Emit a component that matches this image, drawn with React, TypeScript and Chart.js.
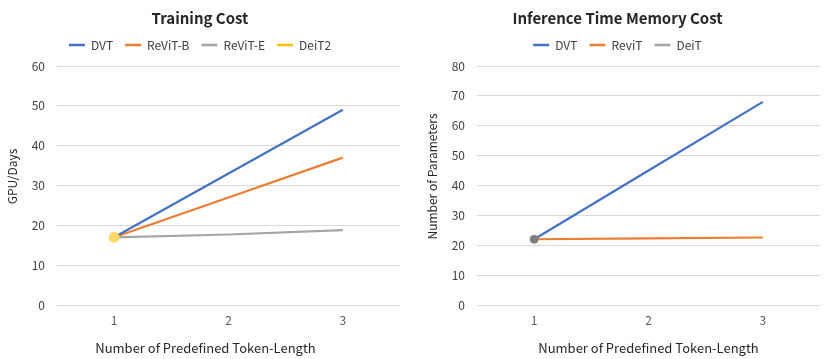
import React, { useEffect, useRef } from "react";
import { Chart, registerables } from "chart.js";

Chart.register(...registerables);

const tokenLengths = ["1", "2", "3"];

// Training cost (GPU/Days)
const trainDVT = [17, 33, 49];
const trainReViTB = [17, 27, 37];
const trainReViTE = [17, 17.7, 18.8];
const trainDeiT2 = [17, null, null];

// Inference time memory cost (Number of Parameters)
const inferDVT = [22, 45, 68];
const inferReviT = [22, 22.3, 22.6];
const inferDeiT = [22, null, null];

const FONT = "'Noto Sans CJK SC', 'Noto Sans', sans-serif";
const BLUE = "#4472C4";
const ORANGE = "#ED7D31";
const GREY = "#A5A5A5";
const GOLD = "#FFC000";

const axisTitles = {
  id: "axisTitles",
  afterDraw(chart: any, _args: any, opts: any) {
    const { ctx, chartArea } = chart;
    ctx.save();
    ctx.fillStyle = "#262626";
    ctx.textAlign = "center";
    ctx.textBaseline = "middle";
    ctx.font = `13px ${FONT}`;
    const cx = opts.xCenter === "canvas" ? chart.width / 2 + (opts.xShift || 0) : (chartArea.left + chartArea.right) / 2;
    ctx.fillText(opts.xText, cx, chart.height - opts.xFromBottom);
    ctx.font = `12px ${FONT}`;
    ctx.translate(opts.yX, (chartArea.top + chartArea.bottom) / 2 + opts.yShift);
    ctx.rotate(-Math.PI / 2);
    ctx.fillText(opts.yText, 0, 0);
    ctx.restore();
  },
};

const legendGap = {
  id: "legendGap",
  beforeInit(chart: any) {
    const legend = chart.legend;
    if (!legend) return;
    const fit = legend.fit;
    legend.fit = function () {
      fit.call(this);
      this.height += 5;
    };
  },
};

function makeConfig(p: {
  title: string;
  datasets: any[];
  max: number;
  yWidth: number;
  padRight: number;
  yText: string;
  yX: number;
  xCenter: string;
  xShift?: number;
}) {
  return {
    type: "line",
    data: { labels: tokenLengths, datasets: p.datasets },
    plugins: [legendGap, axisTitles],
    options: {
      responsive: false,
      animation: false,
      layout: { padding: { left: 0, right: p.padRight, top: 0, bottom: 0 } },
      plugins: {
        title: {
          display: true,
          text: p.title,
          color: "#262626",
          font: { family: FONT, size: 15, weight: "bold" },
          padding: { top: 9, bottom: 0 },
        },
        legend: {
          display: true,
          position: "top",
          labels: {
            color: "#404040",
            font: { family: FONT, size: 12 },
            usePointStyle: true,
            pointStyle: "line",
            pointStyleWidth: 16,
            padding: 12,
            generateLabels(chart: any) {
              return chart.data.datasets.map((ds: any, i: number) => ({
                text: ds.label,
                fillStyle: ds.borderColor,
                strokeStyle: ds.borderColor,
                lineWidth: 2.5,
                pointStyle: "line",
                hidden: false,
                datasetIndex: i,
                fontColor: "#404040",
              }));
            },
          },
        },
        tooltip: { enabled: false },
        axisTitles: {
          xText: "Number of Predefined Token-Length",
          xCenter: p.xCenter,
          xShift: p.xShift || 0,
          xFromBottom: 11,
          yText: p.yText,
          yX: p.yX,
          yShift: -9,
        },
      },
      scales: {
        x: {
          type: "category",
          offset: true,
          grid: { display: false, drawTicks: false },
          border: { display: false },
          ticks: { color: "#595959", font: { family: FONT, size: 12 }, padding: 8 },
          afterFit(scale: any) {
            scale.height = 54;
          },
        },
        y: {
          min: 0,
          max: p.max,
          grid: { color: "#D9D9D9", lineWidth: 1, drawTicks: false },
          border: { display: false },
          ticks: {
            stepSize: 10,
            color: "#404040",
            font: { family: FONT, size: 12 },
            padding: 12,
          },
          afterFit(scale: any) {
            scale.width = p.yWidth;
          },
        },
      },
    },
  } as any;
}

function ChartCanvas({ config, left }: { config: any; left: number }) {
  const ref = useRef<HTMLCanvasElement | null>(null);
  useEffect(() => {
    if (!ref.current) return;
    const chart = new Chart(ref.current, config);
    return () => chart.destroy();
  }, []);
  return (
    <canvas
      ref={ref}
      width={415}
      height={359}
      style={{ position: "absolute", left, top: 0, width: 415, height: 359, display: "block" }}
    />
  );
}

export default function App() {
  const lineDs = (label: string, data: any[], color: string) => ({
    label,
    data,
    borderColor: color,
    backgroundColor: color,
    borderWidth: 2.2,
    pointRadius: 0,
    tension: 0,
    spanGaps: false,
  });

  const leftConfig = makeConfig({
    title: "Training Cost",
    max: 60,
    yWidth: 57,
    padRight: 15,
    yText: "GPU/Days",
    yX: 12,
    xCenter: "canvas",
    xShift: -2,
    datasets: [
      { ...lineDs("DVT", trainDVT, BLUE), order: 1 },
      { ...lineDs("ReViT-B", trainReViTB, ORANGE), order: 2 },
      { ...lineDs("ReViT-E", trainReViTE, GREY), order: 3 },
      {
        label: "DeiT2",
        data: trainDeiT2,
        borderColor: GOLD,
        backgroundColor: "#FFD966",
        borderWidth: 2.2,
        pointRadius: 5,
        pointBackgroundColor: "#FFD966",
        pointBorderColor: "#FFD966",
        pointBorderWidth: 1,
        order: 0,
      },
    ],
  });

  const rightConfig = makeConfig({
    title: "Inference Time Memory Cost",
    max: 80,
    yWidth: 62,
    padRight: 10,
    yText: "Number of Parameters",
    yX: 17,
    xCenter: "area",
    datasets: [
      { ...lineDs("DVT", inferDVT, BLUE), order: 1 },
      { ...lineDs("ReviT", inferReviT, ORANGE), order: 2 },
      {
        label: "DeiT",
        data: inferDeiT,
        borderColor: GREY,
        backgroundColor: "#7F7F7F",
        borderWidth: 2.2,
        pointRadius: 4,
        pointBackgroundColor: "#7F7F7F",
        pointBorderColor: "#7F7F7F",
        pointBorderWidth: 1,
        order: 0,
      },
    ],
  });

  return (
    <div style={{ position: "absolute", left: 0, top: 0, width: 830, height: 359, background: "#fff" }}>
      <ChartCanvas config={leftConfig} left={0} />
      <ChartCanvas config={rightConfig} left={415} />
    </div>
  );
}
